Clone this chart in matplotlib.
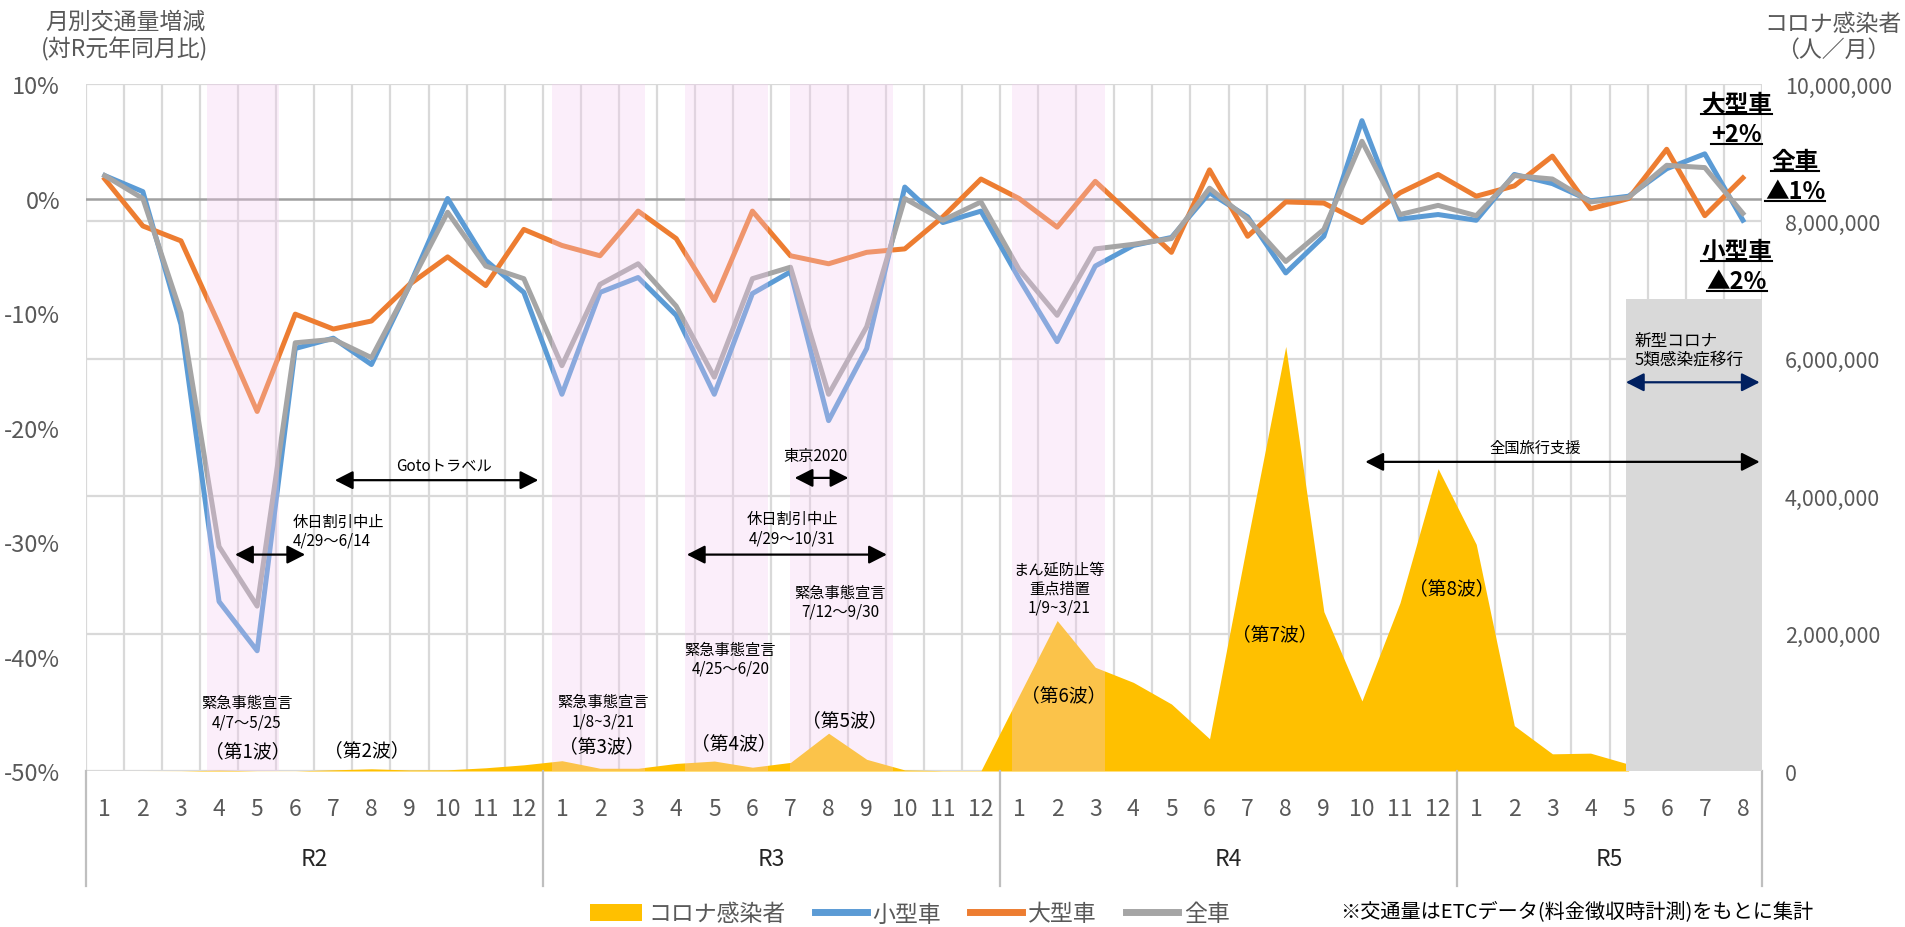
import numpy as np
import matplotlib
matplotlib.use("Agg")
import matplotlib.pyplot as plt
import matplotlib.transforms as mtransforms
from matplotlib.lines import Line2D
from matplotlib.patches import Patch, Rectangle
from matplotlib.ticker import FuncFormatter

plt.rcParams['font.family'] = ['Noto Sans CJK JP', 'DejaVu Sans']

# ---- data ----
months = list(range(1, 13)) * 3 + list(range(1, 9))
years = ['R2', 'R3', 'R4', 'R5']
year_len = [12, 12, 12, 8]

# 対R元年同月比 (%)
small_car = [2.0, 0.6, -11.0, -35.2, -39.5, -13.1, -12.2, -14.5, -7.6, 0.0, -5.4, -8.2,
             -17.1, -8.2, -6.9, -10.2, -17.1, -8.3, -6.4, -19.4, -13.1, 1.0, -2.1, -1.1,
             -7.0, -12.5, -5.9, -4.1, -3.4, 0.5, -1.6, -6.5, -3.3, 6.8, -1.8, -1.4,
             -1.9, 2.1, 1.3, -0.2, 0.2, 2.6, 3.9, -1.9]
large_car = [1.7, -2.4, -3.7, -11.0, -18.6, -10.1, -11.4, -10.7, -7.5, -5.1, -7.6, -2.7,
             -4.1, -5.0, -1.1, -3.5, -8.9, -1.1, -5.0, -5.7, -4.7, -4.4, -1.6, 1.7,
             0.0, -2.5, 1.5, -1.6, -4.7, 2.5, -3.3, -0.3, -0.4, -2.1, 0.5, 2.1,
             0.2, 1.1, 3.7, -0.9, 0.0, 4.3, -1.5, 1.8]
all_car = [2.0, 0.0, -10.0, -30.4, -35.6, -12.6, -12.3, -13.9, -7.6, -1.2, -5.9, -7.0,
           -14.6, -7.5, -5.7, -9.4, -15.6, -7.0, -6.0, -17.1, -11.2, 0.0, -1.9, -0.3,
           -6.2, -10.2, -4.4, -4.0, -3.5, 0.9, -1.8, -5.5, -2.7, 5.0, -1.4, -0.6,
           -1.5, 2.0, 1.7, -0.3, 0.1, 2.9, 2.7, -1.3]

# コロナ感染者 (人/月) R2.1 - R5.5
covid = [0, 200, 2000, 12000, 2400, 1700, 17000, 32000, 15000, 17000, 47000, 90000,
         150000, 40000, 40000, 110000, 145000, 55000, 125000, 550000, 170000, 15000, 5000, 5000,
         1100000, 2190000, 1510000, 1290000, 975000, 470000, 3360000, 6180000, 2320000, 1020000, 2450000, 4400000,
         3300000, 660000, 250000, 260000, 100000]

# 緊急事態宣言 / まん延防止 periods (category units)
periods = [(2.69, 4.58), (11.73, 14.18), (15.22, 17.42), (18.0, 20.69), (23.81, 26.26)]

C_BLUE = '#5B9BD5'
C_ORANGE = '#ED7D31'
C_GRAY = '#A5A5A5'
C_COVID = '#FFC000'
C_TEXT = '#595959'
C_GRID = '#D9D9D9'

x = np.arange(len(months))

fig = plt.figure(figsize=(19.05, 9.28), dpi=100)
ax = fig.add_axes([0.045, 0.1681, 0.8799, 0.7403])
ax2 = ax.twinx()

# covid area on the base axes, traffic lines on the twin
ax.fill_between(np.arange(len(covid)), covid, 0, color=C_COVID, lw=0, zorder=2)
ax.set_ylim(0, 10_000_000)
ax.set_xlim(-0.5, len(months) - 0.5)
ax.set_yticks(np.arange(0, 10_000_001, 2_000_000))
ax.yaxis.set_major_formatter(FuncFormatter(lambda v, p: f"{int(v):,}"))
ax.set_xticks(x)
ax.set_xticklabels([str(m) for m in months])
ax.set_xticks(np.arange(-0.5, len(months), 1), minor=True)
ax.grid(True, which='major', axis='y', color=C_GRID, lw=1.6, zorder=0)
ax.grid(True, which='minor', axis='x', color=C_GRID, lw=1.6, zorder=0)
for s in ax.spines.values():
    s.set_visible(False)
for s in ax2.spines.values():
    s.set_visible(False)
ax.set_axisbelow(True)

ax.yaxis.tick_right()
ax2.yaxis.tick_left()
ax.tick_params(axis='y', which='both', length=0, pad=16.5, labelsize=15.5, labelcolor=C_TEXT)
ax.tick_params(axis='x', which='both', length=0, pad=19, labelsize=16.5, labelcolor=C_TEXT)

ax2.axhline(0, color='#A0A0A0', lw=1.8, zorder=2)
ax2.plot(x, small_car, color=C_BLUE, lw=3.6, zorder=3, label='小型車')
ax2.plot(x, large_car, color=C_ORANGE, lw=3.6, zorder=3, label='大型車')
ax2.plot(x, all_car, color=C_GRAY, lw=3.6, zorder=3, label='全車')
ax2.set_ylim(-50, 10)
ax2.set_yticks(np.arange(-50, 11, 10))
ax2.set_yticklabels([f"{v}%" for v in range(-50, 11, 10)])
ax2.tick_params(axis='y', length=0, pad=18.5, labelsize=17, labelcolor=C_TEXT)

# shaded periods drawn over the lines
for a, b in periods:
    ax2.axvspan(a, b, color=(245 / 255, 203 / 255, 240 / 255), alpha=0.31, lw=0, zorder=5)

# 5類移行 box
ax2.add_patch(Rectangle((39.92, -50), 43.5 - 39.92, 50 - 8.8, facecolor='#D9D9D9', edgecolor='none', zorder=4))

# year separators and labels under the month ticks
sep_tr = mtransforms.blended_transform_factory(ax.transData, ax.transAxes)
edges = np.concatenate([[0], np.cumsum(year_len)]) - 0.5
for e in edges:
    ax.plot([e, e], [0, -0.167], color='#BFBFBF', lw=1.6, transform=sep_tr, clip_on=False)
for i, yr in enumerate(years):
    ax.text((edges[i] + edges[i + 1]) / 2, -0.127, yr, transform=sep_tr, ha='center', va='center',
            fontsize=16.5, color='#262626')


def span_arrow(x0, x1, y, color='black'):
    ax2.annotate('', xy=(x1, y), xytext=(x0, y),
                 arrowprops=dict(arrowstyle='<|-|>,head_length=0.55,head_width=0.28', color=color,
                                 lw=1.6, mutation_scale=20, shrinkA=0, shrinkB=0), zorder=8)


def note(xp, yp, s, size=11, ha='center', **kw):
    ax2.text(xp, yp, s, ha=ha, va='center', fontsize=size, color='black', linespacing=1.15,
             zorder=9, **kw)


note(4.94, -29.0, '休日割引中止\n4/29～6/14', ha='left')
span_arrow(3.42, 5.26, -31.1)
note(8.91, -23.25, 'Gotoトラベル')
span_arrow(6.04, 11.38, -24.6)
note(3.73, -44.85, '緊急事態宣言\n4/7～5/25')
note(13.09, -44.8, '緊急事態宣言\n1/8~3/21')
note(18.66, -22.46, '東京2020')
span_arrow(18.11, 19.52, -24.4)
note(18.04, -28.8, '休日割引中止\n4/29～10/31')
span_arrow(15.28, 20.53, -31.1)
note(19.31, -35.2, '緊急事態宣言\n7/12～9/30')
note(16.42, -40.2, '緊急事態宣言\n4/25～6/20')
note(25.06, -34.0, 'まん延防止等\n重点措置\n1/9~3/21')
note(37.55, -21.7, '全国旅行支援')
span_arrow(33.09, 43.44, -23.0)
note(40.16, -13.2, '新型コロナ\n5類感染症移行', size=12, ha='left')
span_arrow(39.93, 43.44, -16.05, color='#002060')

waves = [(3.76, -48.2, 1), (6.88, -48.1, 2), (13.05, -47.8, 3), (16.5, -47.5, 4),
         (19.43, -45.5, 5), (25.17, -43.3, 6), (30.72, -38.0, 7), (35.36, -34.0, 8)]
for wx, wy, n in waves:
    note(wx, wy, f'（第{n}波）', size=13.5)

# latest month summary labels
summary = [(42.84, 8.25, '大型車'), (42.84, 5.63, '+2%'), (44.37, 3.3, '全車'),
           (44.37, 0.68, '▲1%'), (42.84, -4.56, '小型車'), (42.84, -7.18, '▲2%')]
summary_txt = [ax2.text(sx, sy, s, ha='center', va='center', fontsize=17, fontweight='bold',
                        color='black', zorder=9) for sx, sy, s in summary]

# axis titles
fig.text(125 / 1905, 1 - 36 / 928, '月別交通量増減\n(対R元年同月比)', ha='center', va='center',
         fontsize=16.5, color=C_TEXT, linespacing=1.15)
fig.text(1833 / 1905, 1 - 37 / 928, 'コロナ感染者\n（人／月）', ha='center', va='center',
         fontsize=16.5, color=C_TEXT, linespacing=1.15)

handles = [Patch(facecolor=C_COVID, edgecolor='none'),
           Line2D([], [], color=C_BLUE, lw=5),
           Line2D([], [], color=C_ORANGE, lw=5),
           Line2D([], [], color=C_GRAY, lw=5)]
fig.legend(handles, ['コロナ感染者', '小型車', '大型車', '全車'], loc='center',
           bbox_to_anchor=(910 / 1905, 1 - 915 / 928), ncol=4, frameon=False, fontsize=16.5,
           handlelength=2.27, handleheight=0.8, handletextpad=0.26, columnspacing=1.27,
           borderpad=0, labelcolor=C_TEXT)
fig.text(1340 / 1905, 1 - 912 / 928, '※交通量はETCデータ(料金徴収時計測)をもとに集計', ha='left',
         va='center', fontsize=14.5, color='black')

# underline the summary labels
fig.canvas.draw()
inv = fig.transFigure.inverted()
for t in summary_txt:
    bb = t.get_window_extent().transformed(inv)
    fig.add_artist(Line2D([bb.x0, bb.x1], [bb.y0 + 0.002, bb.y0 + 0.002], color='black', lw=1.5,
                          transform=fig.transFigure))

fig.savefig('out.png', dpi=100)
